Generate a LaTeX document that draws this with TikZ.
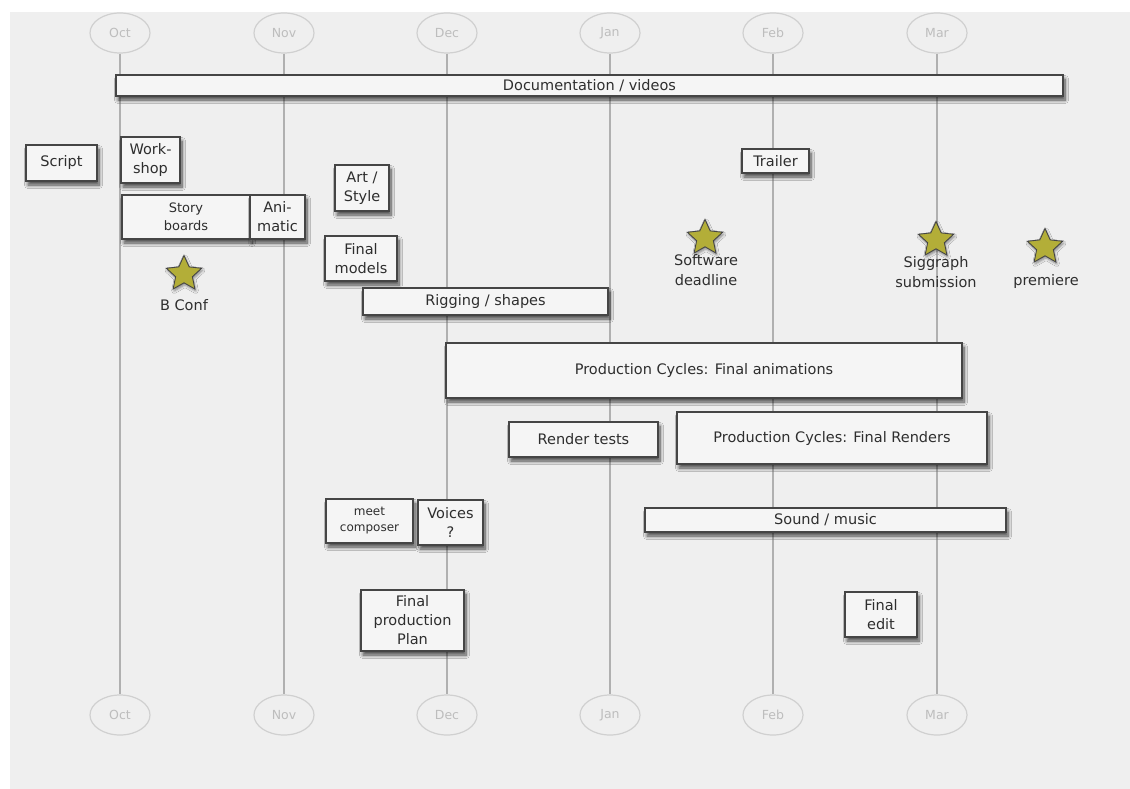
\documentclass[tikz,border=0pt]{standalone}
\usepackage{fontspec}
\setmainfont{DejaVu Sans}
\usetikzlibrary{shapes.geometric,shadows.blur}
\definecolor{bg}{HTML}{EFEFEF}
\definecolor{boxfill}{HTML}{F5F5F5}
\definecolor{boxline}{HTML}{454545}
\definecolor{txt}{HTML}{2E2E2E}
\definecolor{monthline}{HTML}{B0B0B0}
\definecolor{monthring}{HTML}{D0D0D0}
\definecolor{monthtxt}{HTML}{BDBDBD}
\definecolor{starfill}{HTML}{B3AE38}
\tikzset{
  taskbox/.style={draw=boxline, line width=1.4pt, fill=boxfill, text=txt,
    inner sep=0pt, align=center, font=\fontsize{14.5}{19}\selectfont,
    blur shadow={shadow xshift=2pt, shadow yshift=-4pt, shadow blur steps=8, shadow blur radius=3.5pt, shadow opacity=70}},
  monthell/.style={ellipse, draw=monthring, line width=1.2pt, fill=bg, text=monthtxt,
    minimum width=60pt, minimum height=40pt, inner sep=0pt, font=\fontsize{12.5}{14}\selectfont},
  milestone/.style={star, star points=5, star point ratio=2.1, minimum size=37pt, inner sep=0pt,
    draw=boxline, line width=0.9pt, fill=starfill,
    blur shadow={shadow xshift=1pt, shadow yshift=-2pt, shadow blur steps=5, shadow blur radius=2.5pt, shadow opacity=45}},
  mslabel/.style={text=txt, align=center, inner sep=0pt, font=\fontsize{14.5}{19.5}\selectfont},
  monthrule/.style={draw=monthline, line width=1.1pt}
}
\begin{document}
\begin{tikzpicture}[x=1pt,y=-1pt]
\useasboundingbox (0,0) rectangle (1130,789);
\fill[white] (0,0) rectangle (1130,789);
\fill[bg] (10,12) rectangle (1130,789);

% month markers
\foreach \m/\x in {Oct/120,Nov/284,Dec/447,Jan/610,Feb/773,Mar/937}{
  \node[monthell] (top\m) at (\x,33) {\m};
  \node[monthell] (bot\m) at (\x,715) {\m};
  \draw[monthrule] (top\m.south) -- (bot\m.north);
}

% tasks
\node[taskbox, minimum width=947pt, minimum height=21pt] (doc) at (589.5,85.5) {Documentation / videos};
\node[taskbox, minimum width=71pt, minimum height=36pt] (script) at (61.5,163) {Script};
\node[taskbox, minimum width=59pt, minimum height=46pt] (workshop) at (150.5,160) {Work-\\shop};
\node[taskbox, minimum width=128pt, minimum height=44pt, font=\fontsize{13}{18}\selectfont] (story) at (186,217) {Story\\boards};
\node[taskbox, minimum width=55pt, minimum height=44pt] (animatic) at (277.5,217) {Ani-\\matic};
\node[taskbox, minimum width=54pt, minimum height=46pt] (art) at (362,188) {Art /\\Style};
\node[taskbox, minimum width=72pt, minimum height=45pt] (models) at (361,258.5) {Final\\models};
\node[taskbox, minimum width=245pt, minimum height=27pt] (rigging) at (485.5,301.5) {Rigging / shapes};
\node[taskbox, minimum width=67pt, minimum height=24pt] (trailer) at (775.5,161) {Trailer};
\node[taskbox, minimum width=516pt, minimum height=55pt] (anim) at (704,370.5) {Production Cycles: Final animations};
\node[taskbox, minimum width=149pt, minimum height=35pt] (rtests) at (583.5,439.5) {Render tests};
\node[taskbox, minimum width=310pt, minimum height=52pt] (renders) at (832,438) {Production Cycles: Final Renders};
\node[taskbox, minimum width=361pt, minimum height=24pt] (sound) at (825.5,520) {Sound / music};
\node[taskbox, minimum width=87pt, minimum height=44pt, font=\fontsize{12}{16}\selectfont] (composer) at (369.5,521) {meet\\composer};
\node[taskbox, minimum width=65pt, minimum height=45pt] (voices) at (450.5,522.5) {Voices\\?};
\node[taskbox, minimum width=103pt, minimum height=61pt] (plan) at (412.5,620.5) {Final\\production\\Plan};
\node[taskbox, minimum width=72pt, minimum height=45pt] (edit) at (881,614.5) {Final\\edit};

% milestones
\node[milestone] (sBConf) at (184,274) {};
\node[mslabel] (lBConf) at (184,305) {B Conf};
\node[milestone] (sSoft) at (705,238) {};
\node[mslabel] (lSoft) at (706,270) {Software\\deadline};
\node[milestone] (sSig) at (936,240) {};
\node[mslabel] (lSig) at (936,272) {Siggraph\\submission};
\node[milestone] (sPrem) at (1045,247) {};
\node[mslabel] (lPrem) at (1046,281) {premiere};
\end{tikzpicture}
\end{document}
